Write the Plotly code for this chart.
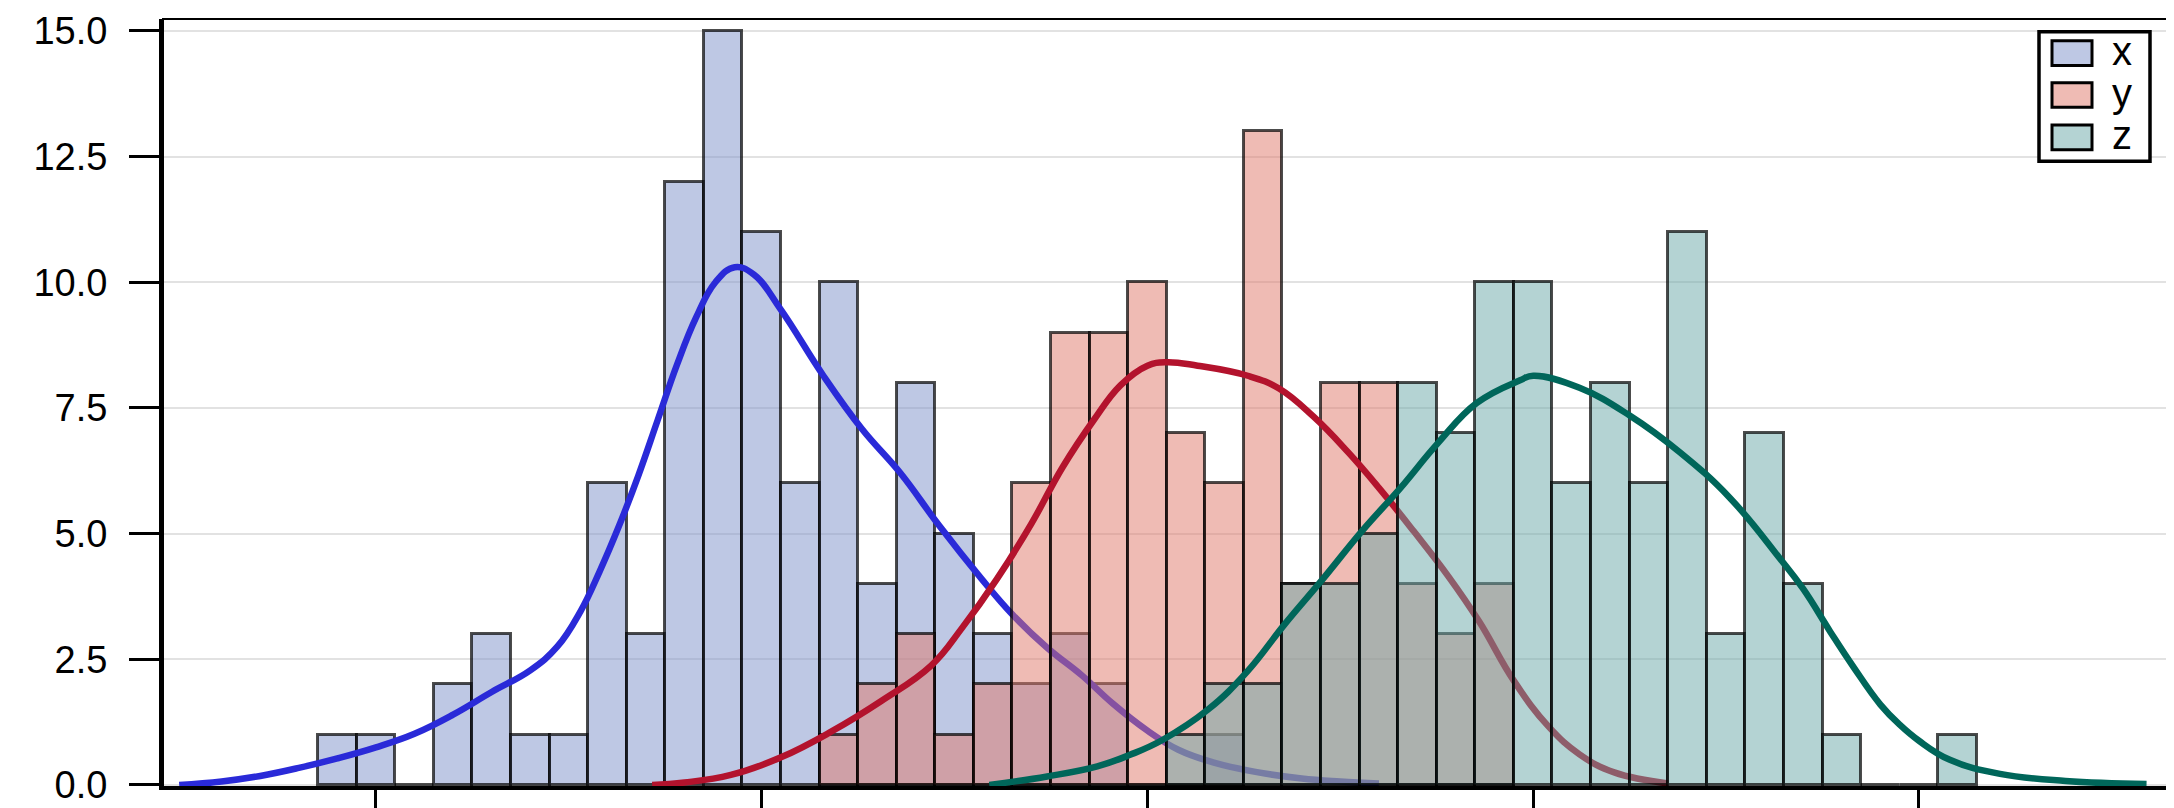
import plotly.graph_objects as go

# ---------------- data ----------------
series_names = ["x", "y", "z"]
BIN_W = 0.1

x_first_bin = -0.1
x_counts = [1, 1, 0, 2, 3, 1, 1, 6, 3, 12, 15, 11, 6, 10, 4, 8, 5, 3, 2, 3, 2, 0, 0, 1]
y_first_bin = 1.2
y_counts = [1, 2, 3, 1, 2, 6, 9, 9, 10, 7, 6, 13, 4, 8, 8, 4, 3, 4]
z_first_bin = 2.1
z_counts = [1, 2, 2, 4, 4, 5, 8, 7, 10, 10, 6, 8, 6, 11, 3, 7, 4, 1, 0, 0, 1]

x_kde_x = [-0.51, -0.40, -0.30, -0.20, -0.10, 0.00, 0.10, 0.20, 0.30, 0.40,
           0.47, 0.53, 0.58, 0.63, 0.68, 0.73, 0.78, 0.83, 0.88, 0.93, 0.98,
           1.05, 1.16, 1.26, 1.36, 1.46, 1.57, 1.65, 1.74, 1.83, 1.91, 2.00,
           2.08, 2.17, 2.28, 2.40, 2.50, 2.60]
x_kde_y = [0.00, 0.07, 0.18, 0.34, 0.53, 0.75, 1.02, 1.40, 1.85, 2.28,
           2.75, 3.45, 4.25, 5.15, 6.15, 7.25, 8.35, 9.30, 10.00, 10.30, 10.15,
           9.45, 8.14, 7.08, 6.20, 5.16, 4.10, 3.39, 2.73, 2.18, 1.62, 1.08,
           0.70, 0.45, 0.26, 0.13, 0.07, 0.03]

y_kde_x = [0.716, 0.80, 0.92, 1.05, 1.18, 1.31, 1.44, 1.52, 1.61, 1.70, 1.78,
           1.86, 1.93, 2.00, 2.05, 2.13, 2.26, 2.34, 2.43, 2.52, 2.60, 2.69,
           2.78, 2.86, 2.95, 3.04, 3.12, 3.21, 3.35]
y_kde_y = [0.00, 0.05, 0.20, 0.55, 1.06, 1.67, 2.38, 3.13, 4.10, 5.21, 6.32,
           7.25, 7.95, 8.34, 8.41, 8.34, 8.14, 7.89, 7.33, 6.62, 5.91, 5.05,
           4.15, 3.25, 2.07, 1.16, 0.61, 0.25, 0.03]

z_kde_x = [1.59, 1.74, 1.87, 1.955, 2.04, 2.157, 2.258, 2.356, 2.455, 2.556, 2.655,
           2.753, 2.854, 2.966, 3.00, 3.12, 3.25, 3.38, 3.51, 3.64, 3.70, 3.77,
           3.83, 3.90, 3.95, 4.00, 4.08, 4.21, 4.38, 4.59]
z_kde_y = [0.00, 0.17, 0.37, 0.60, 0.90, 1.50, 2.25, 3.20, 4.10, 5.05, 5.90,
           6.80, 7.60, 8.05, 8.14, 7.90, 7.35, 6.62, 5.71, 4.50, 3.90, 3.05,
           2.35, 1.60, 1.20, 0.88, 0.50, 0.22, 0.08, 0.02]

x_tick_vals = [0, 1, 2, 3, 4]
y_tick_vals = [0, 2.5, 5, 7.5, 10, 12.5, 15]
y_tick_text = ["0.0", "2.5", "5.0", "7.5", "10.0", "12.5", "15.0"]

# ---------------- styles ----------------
bar_fill = ["rgba(125,145,201,0.5)", "rgba(223,119,105,0.5)", "rgba(105,167,167,0.5)"]
curve_col = ["#2a2ad8", "#b3132d", "#00665a"]
edge_col = "rgba(0,0,0,0.7)"
FONT = "Liberation Sans, Arial, sans-serif"

# page has an 8px body margin; figure sized/margined to compensate
OFF = 8
W, H = 2166, 800
PL, PR, PT, PB = 163, 2167, 10, 788          # plot area in page pixels
ML, MT = PL - OFF, PT - OFF
MR = W - (PR - OFF)
MB = H - (PB - OFF)

fig = go.Figure()


def centers(first, counts):
    return [round(first + i * BIN_W, 3) for i in range(len(counts))]


groups = [
    (x_first_bin, x_counts, x_kde_x, x_kde_y),
    (y_first_bin, y_counts, y_kde_x, y_kde_y),
    (z_first_bin, z_counts, z_kde_x, z_kde_y),
]
axis_ids = [("x", "y"), ("x2", "y2"), ("x3", "y3")]

for i, (first, counts, kx, ky) in enumerate(groups):
    xa, ya = axis_ids[i]
    fig.add_trace(go.Bar(
        x=centers(first, counts), y=counts, width=BIN_W,
        marker=dict(color=bar_fill[i], line=dict(color=edge_col, width=3)),
        name=series_names[i], showlegend=False, xaxis=xa, yaxis=ya,
    ))
    fig.add_trace(go.Scatter(
        x=kx, y=ky, mode="lines",
        line=dict(color=curve_col[i], width=6.5, shape="spline", smoothing=1.2),
        showlegend=False, hoverinfo="skip", xaxis=xa, yaxis=ya,
    ))

# ---------------- legend (custom, paper coords) ----------------
pw = PR - PL
ph = PB - PT


def px_x(p):
    return (p - PL) / pw


def px_y(p):
    return (PB - p) / ph


shapes = [
    dict(type="rect", xref="paper", yref="paper", x0=0, x1=1, y0=0, y1=1,
         line=dict(color="black", width=2), layer="above"),
    dict(type="rect", xref="paper", yref="paper",
         x0=px_x(2039), x1=px_x(2150), y0=px_y(154), y1=px_y(23),
         line=dict(color="black", width=3.5), fillcolor="white", layer="above"),
]
annotations = []
row_centers = [44.5, 87, 130]
for i, name in enumerate(series_names):
    cy = row_centers[i]
    shapes.append(dict(type="rect", xref="paper", yref="paper",
                       x0=px_x(2052), x1=px_x(2092),
                       y0=px_y(cy + 12.5), y1=px_y(cy - 12.5),
                       line=dict(color="black", width=3), fillcolor=bar_fill[i],
                       layer="above"))
    annotations.append(dict(xref="paper", yref="paper", x=px_x(2122), y=px_y(cy - 2),
                            text=name, showarrow=False, xanchor="center",
                            yanchor="middle",
                            font=dict(family=FONT, size=40, color="black")))

X_RANGE = [-0.552, 4.643]
Y_RANGE = [-0.04, 15.236]

fig.update_layout(
    width=W, height=H,
    margin=dict(l=ML, r=MR, t=MT, b=MB, pad=0),
    paper_bgcolor="white", plot_bgcolor="white",
    barmode="overlay", bargap=0,
    showlegend=False,
    shapes=shapes, annotations=annotations,
    font=dict(family=FONT, color="black"),
    xaxis=dict(
        range=X_RANGE, showgrid=False, zeroline=False,
        showline=True, linewidth=3, linecolor="black",
        ticks="outside", ticklen=19, tickwidth=3, tickcolor="black",
        tickvals=x_tick_vals, showticklabels=False,
    ),
    yaxis=dict(
        range=Y_RANGE, showgrid=True, gridcolor="#e2e2e2", gridwidth=2,
        zeroline=False, showline=True, linewidth=4, linecolor="black",
        ticks="outside", ticklen=30, tickwidth=3, tickcolor="black",
        tickvals=y_tick_vals, ticktext=y_tick_text,
        tickfont=dict(family=FONT, size=38, color="black"),
        ticklabelstandoff=14, ticklabeloverflow="allow",
    ),
    xaxis2=dict(overlaying="x", matches="x", range=X_RANGE, visible=False),
    yaxis2=dict(overlaying="y", matches="y", range=Y_RANGE, visible=False),
    xaxis3=dict(overlaying="x", matches="x", range=X_RANGE, visible=False),
    yaxis3=dict(overlaying="y", matches="y", range=Y_RANGE, visible=False),
)

fig.write_html("out.html")
